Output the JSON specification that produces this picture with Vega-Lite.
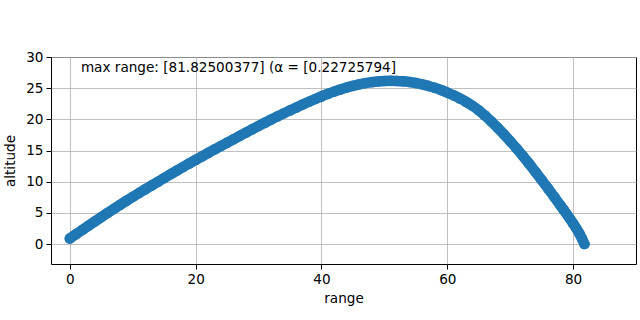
{
  "$schema": "https://vega.github.io/schema/vega-lite/v6.json",
  "width": 585,
  "height": 207,
  "autosize": {"type": "none"},
  "padding": {"left": 51, "top": 57, "right": 4, "bottom": 56},
  "background": "white",
  "config": {
    "view": {"stroke": "black", "strokeWidth": 1},
    "font": "DejaVu Sans",
    "axis": {
      "labelFont": "DejaVu Sans",
      "titleFont": "DejaVu Sans",
      "labelFontSize": 13.6,
      "titleFontSize": 13.6,
      "titleFontWeight": "normal",
      "labelColor": "black",
      "titleColor": "black",
      "tickColor": "black",
      "tickSize": 5,
      "labelOverlap": false,
      "domain": false,
      "grid": true,
      "gridColor": "#b0b0b0",
      "gridWidth": 0.8
    }
  },
  "datasets": {
    "traj": [
      {"range": 0, "altitude": 0.9}, {"range": 1, "altitude": 1.6}, {"range": 2, "altitude": 2.28},
      {"range": 3, "altitude": 2.96}, {"range": 4, "altitude": 3.64}, {"range": 5, "altitude": 4.32},
      {"range": 6, "altitude": 4.99}, {"range": 7, "altitude": 5.65}, {"range": 8, "altitude": 6.3},
      {"range": 9, "altitude": 6.94}, {"range": 10, "altitude": 7.57}, {"range": 11, "altitude": 8.19},
      {"range": 12, "altitude": 8.8}, {"range": 13, "altitude": 9.4}, {"range": 14, "altitude": 10.0},
      {"range": 15, "altitude": 10.6}, {"range": 16, "altitude": 11.19}, {"range": 17, "altitude": 11.78},
      {"range": 18, "altitude": 12.36}, {"range": 19, "altitude": 12.94}, {"range": 20, "altitude": 13.5},
      {"range": 21, "altitude": 14.06}, {"range": 22, "altitude": 14.62}, {"range": 23, "altitude": 15.17},
      {"range": 24, "altitude": 15.72}, {"range": 25, "altitude": 16.26}, {"range": 26, "altitude": 16.8},
      {"range": 27, "altitude": 17.34}, {"range": 28, "altitude": 17.88}, {"range": 29, "altitude": 18.41},
      {"range": 30, "altitude": 18.94}, {"range": 31, "altitude": 19.46}, {"range": 32, "altitude": 19.97},
      {"range": 33, "altitude": 20.47}, {"range": 34, "altitude": 20.96}, {"range": 35, "altitude": 21.44},
      {"range": 36, "altitude": 21.91}, {"range": 37, "altitude": 22.37}, {"range": 38, "altitude": 22.82},
      {"range": 39, "altitude": 23.26}, {"range": 40, "altitude": 23.68}, {"range": 41, "altitude": 24.08},
      {"range": 42, "altitude": 24.45}, {"range": 43, "altitude": 24.79}, {"range": 44, "altitude": 25.1},
      {"range": 45, "altitude": 25.38}, {"range": 46, "altitude": 25.62}, {"range": 47, "altitude": 25.82},
      {"range": 48, "altitude": 25.97}, {"range": 49, "altitude": 26.08}, {"range": 50, "altitude": 26.15},
      {"range": 51, "altitude": 26.18}, {"range": 52, "altitude": 26.16}, {"range": 53, "altitude": 26.1},
      {"range": 54, "altitude": 25.99}, {"range": 55, "altitude": 25.83}, {"range": 56, "altitude": 25.62},
      {"range": 57, "altitude": 25.36}, {"range": 58, "altitude": 25.05}, {"range": 59, "altitude": 24.7},
      {"range": 60, "altitude": 24.3}, {"range": 61, "altitude": 23.85}, {"range": 62, "altitude": 23.35},
      {"range": 63, "altitude": 22.8}, {"range": 64, "altitude": 22.18}, {"range": 65, "altitude": 21.45},
      {"range": 66, "altitude": 20.6}, {"range": 67, "altitude": 19.65}, {"range": 68, "altitude": 18.65},
      {"range": 69, "altitude": 17.6}, {"range": 70, "altitude": 16.5}, {"range": 71, "altitude": 15.35},
      {"range": 72, "altitude": 14.15}, {"range": 73, "altitude": 12.9}, {"range": 74, "altitude": 11.6},
      {"range": 75, "altitude": 10.28}, {"range": 76, "altitude": 8.93}, {"range": 77, "altitude": 7.57},
      {"range": 78, "altitude": 6.18}, {"range": 78.5, "altitude": 5.48}, {"range": 79, "altitude": 4.77},
      {"range": 79.5, "altitude": 4.05}, {"range": 80, "altitude": 3.3}, {"range": 80.5, "altitude": 2.52},
      {"range": 81, "altitude": 1.7}, {"range": 81.4, "altitude": 0.88}, {"range": 81.8, "altitude": 0.0}
    ],
    "note": [
      {"range": 1.75, "altitude": 28.25, "label": "max range: [81.82500377] (α = [0.22725794]"}
    ]
  },
  "encoding": {
    "x": {"field": "range", "type": "quantitative", "scale": {"domain": [-3, 90], "nice": false, "zero": false},
          "axis": {"values": [0, 20, 40, 60, 80], "title": "range", "labelPadding": 3, "titlePadding": 6}},
    "y": {"field": "altitude", "type": "quantitative", "scale": {"domain": [-3.2, 30], "nice": false, "zero": false},
          "axis": {"values": [0, 5, 10, 15, 20, 25, 30], "title": "altitude", "labelPadding": 3, "titlePadding": 8}}
  },
  "layer": [
    {
      "data": {"name": "traj"},
      "mark": {"type": "line", "color": "#1f77b4", "strokeWidth": 10.5, "strokeCap": "round", "strokeJoin": "round", "interpolate": "monotone"}
    },
    {
      "data": {"name": "traj"},
      "mark": {"type": "point", "filled": true, "shape": "circle", "size": 113, "color": "#1f77b4", "opacity": 1}
    },
    {
      "data": {"name": "note"},
      "mark": {"type": "text", "align": "left", "baseline": "middle", "font": "DejaVu Sans", "fontSize": 13.6, "color": "black"},
      "encoding": {
        "text": {"field": "label"}
      }
    }
  ]
}
